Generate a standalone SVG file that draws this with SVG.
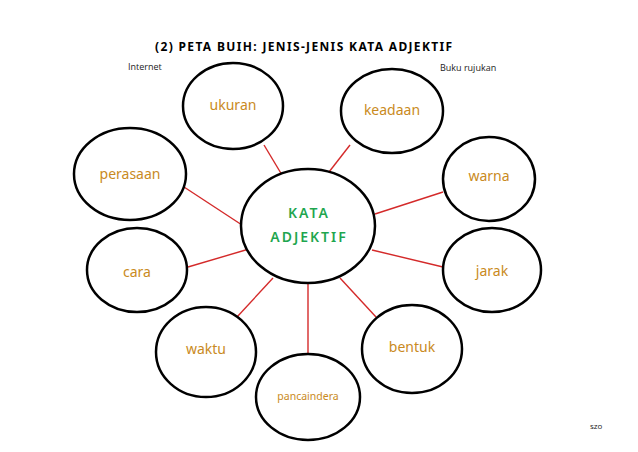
<svg xmlns="http://www.w3.org/2000/svg" width="638" height="452" viewBox="0 0 638 452">
<style>
.b{fill:#fff;stroke:#000;stroke-width:2.5}
.l{stroke:#d42a2a;stroke-width:1.4;fill:none}
.t{font-family:"Comic Sans MS","Noto Sans","DejaVu Sans",sans-serif;font-size:14px;fill:#c98a22;text-anchor:middle;dominant-baseline:central}
.g{font-family:"Comic Sans MS","Noto Sans","DejaVu Sans",sans-serif;font-size:14px;font-weight:600;fill:#1fa64f;text-anchor:middle;dominant-baseline:central;letter-spacing:2px}
.s{font-family:"Open Sans","Noto Sans",sans-serif;font-size:9px;fill:#222}
.h{font-family:"Comic Sans MS","Noto Sans","DejaVu Sans",sans-serif;font-size:12px;font-weight:bold;fill:#000;letter-spacing:1.35px}
</style>
<rect width="638" height="452" fill="#fff"/>
<text class="h" x="155" y="51">(2) PETA BUIH: JENIS-JENIS KATA ADJEKTIF</text>
<text class="s" x="128" y="70">Internet</text>
<text class="s" x="440" y="71">Buku rujukan</text>
<g id="connectors">
<line class="l" x1="264" y1="145" x2="282" y2="175"/>
<line class="l" x1="350" y1="145" x2="329" y2="172"/>
<line class="l" x1="184" y1="187" x2="242" y2="225"/>
<line class="l" x1="188" y1="267" x2="249" y2="249"/>
<line class="l" x1="237" y1="317" x2="273" y2="278"/>
<line class="l" x1="308" y1="283" x2="308" y2="355"/>
<line class="l" x1="376" y1="317" x2="340" y2="278"/>
<line class="l" x1="443" y1="192" x2="375" y2="214"/>
<line class="l" x1="443" y1="267" x2="372" y2="250"/>
</g>
<g id="center"><ellipse class="b" cx="308" cy="226" rx="67" ry="57"/><text class="g" x="309" y="212">KATA</text><text class="g" x="309" y="236">ADJEKTIF</text></g>
<g id="ukuran"><ellipse class="b" cx="233" cy="106" rx="50" ry="43"/><text class="t" x="233" y="104">ukuran</text></g>
<g id="keadaan"><ellipse class="b" cx="392" cy="111" rx="51" ry="42"/><text class="t" x="392" y="109">keadaan</text></g>
<g id="perasaan"><ellipse class="b" cx="130" cy="174" rx="56" ry="46"/><text class="t" x="130" y="173">perasaan</text></g>
<g id="warna"><ellipse class="b" cx="489" cy="179" rx="46" ry="42"/><text class="t" x="489" y="175">warna</text></g>
<g id="cara"><ellipse class="b" cx="137" cy="270" rx="50" ry="42"/><text class="t" x="137" y="271">cara</text></g>
<g id="jarak"><ellipse class="b" cx="492" cy="270" rx="49" ry="42"/><text class="t" x="492" y="270">jarak</text></g>
<g id="waktu"><ellipse class="b" cx="206" cy="352" rx="50" ry="45"/><text class="t" x="206" y="348">waktu</text></g>
<g id="bentuk"><ellipse class="b" cx="412" cy="349" rx="50" ry="44"/><text class="t" x="412" y="346">bentuk</text></g>
<g id="pancaindera"><ellipse class="b" cx="308" cy="397" rx="52" ry="43"/><text class="t" x="308" y="396" style="font-size:10.5px">pancaindera</text></g>
<text class="s" x="590" y="429" style="font-size:8px">szo</text>
</svg>
